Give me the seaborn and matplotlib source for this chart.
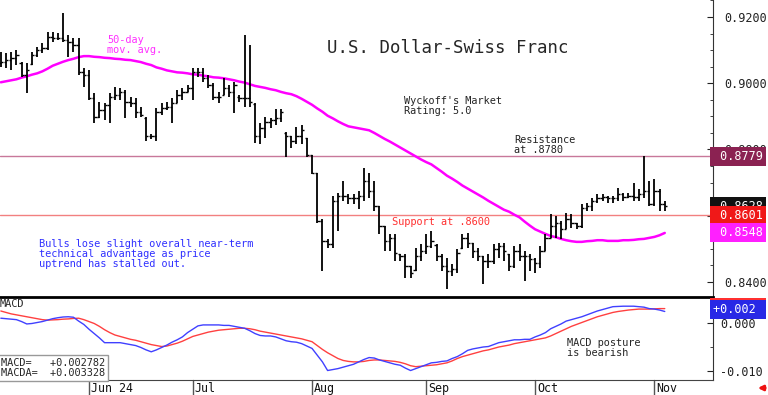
import numpy as np
import pandas as pd
import matplotlib
matplotlib.use("Agg")
import matplotlib.pyplot as plt
import seaborn as sns
from matplotlib.ticker import MultipleLocator, FormatStrFormatter

# Trading days shown (weekdays, 9 May - 5 Nov 2024)
dates = pd.bdate_range("2024-05-09", "2024-11-05")

opens = [
    .9060, .9064, .9070, .9076, .9060, .9024, .9058, .9085, .9100, .9106,
    .9139, .9136, .9136, .9130, .9124, .9115, .9033, .9024, .8955, .8897,
    .8918, .8933, .8958, .8964, .8973, .8942, .8939, .8912, .8895, .8842,
    .8842, .8912, .8924, .8927, .8939, .8964, .8973, .8985, .9033, .9033,
    .9015, .8994, .8958, .8966, .8985, .8973, .8960, .8955, .8955, .8936,
    .8842, .8864, .8882, .8888, .8894, .8850, .8842, .8827, .8842, .8834,
    .8782, .8730, .8585, .8524, .8515, .8645, .8661, .8661, .8655, .8652,
    .8661, .8706, .8676, .8630, .8570, .8524, .8533, .8484, .8479, .8448,
    .8435, .8479, .8494, .8509, .8512, .8479, .8448, .8433, .8439, .8502,
    .8533, .8518, .8494, .8479, .8464, .8464, .8500, .8509, .8483, .8448,
    .8494, .8479, .8479, .8470, .8458, .8494, .8533, .8570, .8579, .8561,
    .8591, .8579, .8570, .8624, .8630, .8645, .8655, .8658, .8652, .8655,
    .8667, .8658, .8661, .8658, .8667, .8676, .8636, .8676, .8636]
highs = [
    .9094, .9091, .9094, .9100, .9064, .9061, .9094, .9109, .9121, .9155,
    .9155, .9152, .9212, .9145, .9136, .9136, .9045, .9039, .8970, .8942,
    .8939, .8970, .8988, .8985, .8979, .8958, .8955, .8927, .8897, .8848,
    .8924, .8939, .8942, .8955, .8979, .8985, .8994, .9045, .9045, .9045,
    .9024, .9000, .8973, .9015, .8994, .9003, .8964, .9145, .9115, .8939,
    .8879, .8897, .8894, .8921, .8921, .8852, .8842, .8867, .8873, .8836,
    .8782, .8730, .8591, .8530, .8661, .8670, .8706, .8667, .8667, .8676,
    .8745, .8730, .8706, .8630, .8570, .8545, .8545, .8485, .8485, .8448,
    .8503, .8515, .8545, .8555, .8515, .8485, .8473, .8455, .8500, .8545,
    .8548, .8518, .8503, .8479, .8485, .8515, .8518, .8518, .8485, .8509,
    .8515, .8494, .8485, .8473, .8509, .8545, .8606, .8600, .8585, .8609,
    .8606, .8579, .8636, .8639, .8655, .8667, .8667, .8661, .8661, .8685,
    .8670, .8670, .8700, .8682, .8779, .8706, .8712, .8682, .8645]
lows = [
    .9048, .9045, .9039, .9055, .9018, .8970, .9055, .9079, .9091, .9100,
    .9124, .9130, .9124, .9079, .9094, .9024, .8988, .8948, .8879, .8894,
    .8888, .8879, .8948, .8948, .8894, .8927, .8894, .8897, .8827, .8833,
    .8827, .8903, .8918, .8879, .8939, .8948, .8973, .8948, .9018, .9003,
    .8985, .8948, .8939, .8964, .8958, .8909, .8942, .8927, .8927, .8821,
    .8818, .8836, .8864, .8873, .8882, .8776, .8806, .8818, .8818, .8776,
    .8727, .8579, .8433, .8503, .8503, .8555, .8645, .8636, .8636, .8621,
    .8645, .8655, .8615, .8545, .8494, .8494, .8464, .8464, .8412, .8412,
    .8433, .8464, .8485, .8503, .8464, .8433, .8379, .8418, .8427, .8500,
    .8503, .8473, .8464, .8394, .8442, .8455, .8473, .8464, .8433, .8442,
    .8464, .8403, .8433, .8427, .8442, .8494, .8533, .8533, .8530, .8561,
    .8564, .8561, .8564, .8615, .8615, .8639, .8645, .8639, .8639, .8645,
    .8645, .8652, .8645, .8645, .8655, .8630, .8630, .8615, .8615]
closes = [
    .9064, .9070, .9076, .9085, .9024, .9039, .9085, .9100, .9106, .9139,
    .9136, .9136, .9130, .9124, .9115, .9033, .9024, .8955, .8897, .8918,
    .8933, .8958, .8964, .8973, .8942, .8939, .8912, .8903, .8842, .8842,
    .8912, .8924, .8927, .8939, .8964, .8973, .8985, .9033, .9033, .9015,
    .8994, .8958, .8958, .8985, .8973, .8994, .8955, .8955, .8942, .8842,
    .8864, .8882, .8888, .8894, .8912, .8842, .8827, .8842, .8858, .8782,
    .8730, .8585, .8524, .8515, .8645, .8661, .8661, .8655, .8652, .8661,
    .8706, .8676, .8630, .8570, .8524, .8533, .8488, .8479, .8448, .8427,
    .8479, .8494, .8509, .8524, .8479, .8448, .8433, .8439, .8488, .8533,
    .8518, .8494, .8479, .8464, .8464, .8500, .8509, .8494, .8448, .8494,
    .8479, .8479, .8470, .8458, .8494, .8533, .8570, .8579, .8561, .8591,
    .8579, .8570, .8624, .8630, .8645, .8655, .8658, .8652, .8655, .8667,
    .8658, .8661, .8658, .8667, .8676, .8636, .8676, .8636, .8628]

# 50-day moving average as drawn
ma50 = [
    .9003, .9006, .9009, .9012, .9017, .9021, .9026, .9030, .9036, .9044,
    .9053, .9059, .9065, .9070, .9074, .9079, .9082, .9082, .9080, .9079,
    .9077, .9076, .9074, .9073, .9071, .9070, .9067, .9064, .9059, .9055,
    .9048, .9044, .9039, .9036, .9033, .9032, .9030, .9027, .9026, .9023,
    .9021, .9018, .9017, .9015, .9012, .9009, .9005, .9002, .8997, .8992,
    .8989, .8986, .8982, .8979, .8974, .8970, .8967, .8961, .8953, .8944,
    .8935, .8924, .8914, .8902, .8894, .8885, .8877, .8870, .8867, .8864,
    .8861, .8858, .8850, .8841, .8832, .8824, .8815, .8806, .8797, .8788,
    .8779, .8770, .8762, .8755, .8744, .8733, .8721, .8712, .8702, .8691,
    .8682, .8673, .8664, .8655, .8645, .8636, .8627, .8618, .8612, .8603,
    .8595, .8582, .8570, .8559, .8552, .8545, .8539, .8535, .8530, .8526,
    .8523, .8521, .8521, .8523, .8524, .8526, .8526, .8524, .8524, .8524,
    .8526, .8526, .8527, .8529, .8530, .8533, .8536, .8541, .8548]

# MACD and its signal line, in units of 1e-4
macd_e4 = [
    10, 9, 8, 7, 3, -2, -1, 1, 3, 6,
    9, 11, 12.5, 13, 12, 4, -3, -13, -22, -31,
    -41, -41, -41, -41, -43, -45, -47, -51, -56, -60,
    -56, -51, -46, -40, -35, -29, -20, -13, -6, -4,
    -4, -4, -4, -5, -5, -7, -9, -11, -16, -22,
    -26, -27, -27, -29, -33, -37, -39, -40, -43, -48,
    -53, -67, -81, -99, -97, -95, -92, -89, -86, -81,
    -76, -72, -73, -77, -80, -83, -86, -88, -94, -99,
    -95, -91, -87, -83, -82, -80, -79, -74, -70, -64,
    -57, -54, -52, -50, -49, -45, -41, -39, -37, -35,
    -35, -34, -34, -29, -25, -20, -12, -7, -2, 4,
    7, 10, 13, 17, 21, 25, 28, 31, 34, 34.5,
    35, 35, 35, 34, 33, 30, 29, 27, 24]
signal_e4 = [
    25, 22, 19, 17, 15, 13, 11, 9, 7, 6,
    6.5, 7, 8, 8.5, 9.5, 10, 7, 3, -1, -7,
    -14, -20, -25, -28, -31, -34, -36, -39, -42, -45,
    -47, -49, -48, -45, -42, -38, -33, -28, -25, -22,
    -19, -17, -15, -14, -13, -12, -11, -11, -12, -14,
    -17, -19, -21, -23, -25, -27, -29, -31, -33, -36,
    -39, -47, -55, -62, -68, -74, -78, -80, -81, -81,
    -80, -78, -77, -77, -78, -79, -80, -82, -85, -89,
    -91, -90, -89, -88, -87, -85, -83, -79, -74, -70,
    -67, -64, -61, -58, -56, -53, -50, -48, -46, -43,
    -41, -39, -37, -35, -33, -31, -27, -22, -17, -12,
    -7, -3, 1, 5, 9, 13, 16, 19, 22, 24,
    25.5, 27, 28, 29, 29, 29, 29.5, 30, 30]

resistance = 0.8779
support = 0.8601
macd_last = 0.002782
macda_last = 0.003328

W, H = 768, 395
MONO = ["DejaVu Sans Mono", "DejaVu Sans"]

sns.set_style("white")
plt.rcParams["font.family"] = MONO

fig = plt.figure(figsize=(W / 100, H / 100), dpi=100)
ax = fig.add_axes([0, 1 - 297 / H, 713 / W, 297 / H])
ax2 = fig.add_axes([0, 1 - 380 / H, 713 / W, 83 / H])

idx = np.arange(len(dates))
df = pd.DataFrame({"i": idx, "ma": ma50,
                   "macd": np.array(macd_e4) / 10000,
                   "signal": np.array(signal_e4) / 10000})

# price bars
ax.axhline(resistance, color="#C8789A", lw=1, zorder=1)
ax.axhline(support, color="#F28080", lw=1, zorder=1)
ax.vlines(idx, lows, highs, color="black", lw=1.3, zorder=3)
ax.hlines(opens, idx - 0.45, idx, color="black", lw=1, zorder=3)
ax.hlines(closes, idx, idx + 0.45, color="black", lw=1, zorder=3)
sns.lineplot(data=df, x="i", y="ma", ax=ax, color="#FF00FF", lw=1.8, zorder=2)

ax.set_xlim(-0.16, 137.3)
ax.set_ylim(0.83545, 0.92515)
ax.set_xlabel("")
ax.set_ylabel("")
ax.set_xticks([])
ax.yaxis.tick_right()
ax.set_yticks([0.84, 0.86, 0.88, 0.90, 0.92])
ax.set_yticklabels(["0.8400", "", "0.8800", "0.9000", "0.9200"])
ax.yaxis.set_minor_locator(MultipleLocator(0.005))
ax.tick_params(axis="y", which="both", direction="in", left=False, right=True,
               labelsize=8.5, pad=8, colors="#222222")
ax.tick_params(axis="y", which="major", length=4)
ax.tick_params(axis="y", which="minor", length=2)
for s in ["left", "top", "bottom"]:
    ax.spines[s].set_visible(False)
ax.spines["right"].set_color("#333333")

# MACD panel
sns.lineplot(data=df, x="i", y="signal", ax=ax2, color="#FF4040", lw=1)
sns.lineplot(data=df, x="i", y="macd", ax=ax2, color="#4040FF", lw=1)
ax2.set_xlim(-0.16, 137.3)
ax2.set_ylim(-0.011875, 0.005417)
ax2.set_xlabel("")
ax2.set_ylabel("")
ax2.set_xticks([])
ax2.yaxis.tick_right()
ax2.set_yticks([-0.01, 0.0])
ax2.yaxis.set_major_formatter(FormatStrFormatter("%.3f"))
ax2.yaxis.set_minor_locator(MultipleLocator(0.005))
ax2.tick_params(axis="y", which="both", direction="in", left=False, right=True,
                labelsize=8.5, pad=5, colors="#222222")
ax2.tick_params(axis="y", which="major", length=4)
ax2.tick_params(axis="y", which="minor", length=2)
ax2.spines["left"].set_visible(False)
ax2.spines["top"].set_linewidth(2)
ax2.spines["top"].set_color("black")
ax2.spines["bottom"].set_color("#444444")
ax2.spines["right"].set_color("#333333")

# month separators and labels
trans = ax2.get_xaxis_transform()
month_names = {6: "Jun 24", 7: "Jul", 8: "Aug", 9: "Sep", 10: "Oct", 11: "Nov"}
for k in range(1, len(dates)):
    if dates[k].month != dates[k - 1].month:
        ax2.plot([k, k], [0, -0.19], color="#555555", lw=1, transform=trans, clip_on=False)
        ax2.text(k + 0.4, -0.1, month_names[dates[k].month], transform=trans,
                 va="center", ha="left", fontsize=8.4, color="#111111", clip_on=False)


def tag(a, y, s, color):
    a.text(1.0, y, s, transform=a.get_yaxis_transform(), ha="left", va="center",
           color="white", fontsize=8.5, clip_on=False, zorder=10,
           bbox=dict(boxstyle="square,pad=0.25", fc=color, ec="none"))


tag(ax, resistance, " 0.8779", "#8B2252")
tag(ax, 0.8628, " 0.8628", "#111111")
tag(ax, support, " 0.8601", "#F01818")
tag(ax, 0.8548, " 0.8548", "#FF20FF")
tag(ax2, macda_last, " +0.003", "#FF3030")
tag(ax2, macd_last, "+0.002 ", "#2828E6")


def ftext(x, y, s, **kw):
    fig.text(x / W, 1 - y / H, s, **kw)


ftext(448, 48, "U.S. Dollar-Swiss Franc", ha="center", va="center", fontsize=12.5)
ftext(107, 35, "50-day\nmov. avg.", va="top", fontsize=7.4, color="#FF30FF", linespacing=1.0)
ftext(404, 96, "Wyckoff's Market\nRating: 5.0", va="top", fontsize=7.4, linespacing=1.0)
ftext(514, 135, "Resistance\nat .8780", va="top", fontsize=7.4, color="#222222", linespacing=1.0)
ftext(392, 222, "Support at .8600", va="center", fontsize=7.4, color="#FF3030")
ftext(39, 239, "Bulls lose slight overall near-term\ntechnical advantage as price\n"
      "uptrend has stalled out.", va="top", fontsize=7.4, color="#3030FF", linespacing=1.0)
ftext(567, 338, "MACD posture\nis bearish", va="top", fontsize=7.4, linespacing=1.0)
ftext(0, 304, "MACD", va="center", fontsize=7.4)
ftext(1, 368, "MACD=   +0.002782\nMACDA=  +0.003328", va="center", fontsize=7.4,
      linespacing=1.0,
      bbox=dict(boxstyle="square,pad=0.3", fc="white", ec="#999999", lw=1))

# little red arrow bottom right
ax2.annotate("", xy=(755 / W, 7 / H), xytext=(768 / W, 7 / H), xycoords="figure fraction",
             textcoords="figure fraction",
             arrowprops=dict(arrowstyle="-|>", color="#EE1111", lw=2, mutation_scale=7))

fig.savefig("out.png", dpi=100)
